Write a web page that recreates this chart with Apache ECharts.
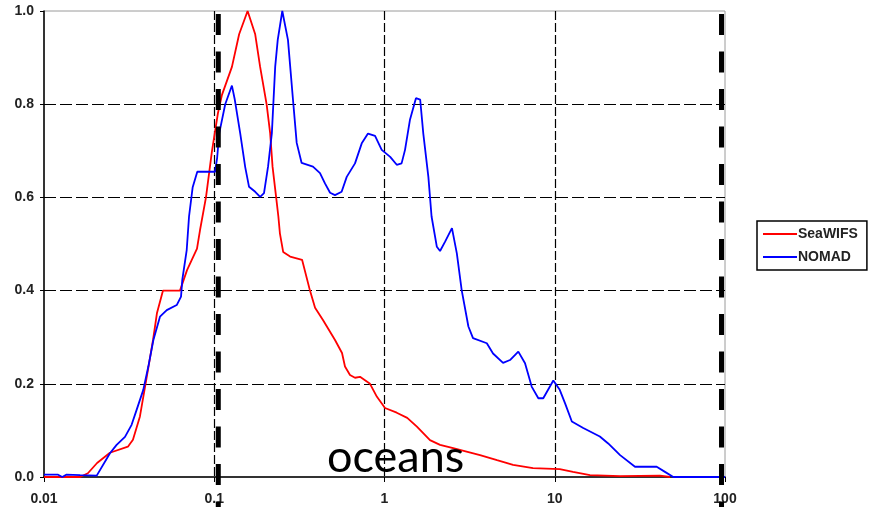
<!DOCTYPE html>
<html>
<head>
<meta charset="utf-8">
<script src="https://cdn.jsdelivr.net/npm/echarts@6/dist/echarts.min.js"></script>
<style>
  html, body { margin: 0; padding: 0; background: #fff; }
  #chart { width: 870px; height: 507px; }
</style>
</head>
<body>
<div id="chart"></div>
<script>
// Normalised frequency distributions of chlorophyll concentration (log x axis)
const xTickLabels = ['0.01', '0.1', '1', '10', '100'];
const yTicks = [0, 0.2, 0.4, 0.6, 0.8, 1.0];

// SeaWIFS: concentration / normalised frequency
const seawifsX = [0.0100, 0.0163, 0.0181, 0.0205, 0.0244, 0.0311, 0.0333, 0.0366, 0.0408, 0.0437,
  0.0461, 0.0500, 0.0629, 0.0692, 0.0792, 0.0825, 0.0894, 0.0970, 0.105, 0.111,
  0.127, 0.140, 0.157, 0.174, 0.186, 0.203, 0.213, 0.220, 0.231, 0.238,
  0.243, 0.254, 0.279, 0.328, 0.365, 0.391, 0.435, 0.512, 0.563, 0.586,
  0.627, 0.671, 0.718, 0.822, 0.903, 1.007, 1.18, 1.36, 1.55, 1.85,
  2.12, 2.53, 3.64, 4.58, 5.69, 7.45, 10.7, 12.8, 16.1, 24.2,
  41.5, 47.5];
const seawifsY = [0.000, 0.000, 0.008, 0.030, 0.052, 0.065, 0.080, 0.130, 0.230, 0.294,
  0.352, 0.400, 0.400, 0.444, 0.490, 0.530, 0.600, 0.700, 0.780, 0.820,
  0.880, 0.950, 1.000, 0.950, 0.880, 0.800, 0.738, 0.666, 0.600, 0.559,
  0.523, 0.483, 0.473, 0.466, 0.400, 0.363, 0.337, 0.294, 0.266, 0.237,
  0.219, 0.213, 0.215, 0.200, 0.172, 0.148, 0.138, 0.127, 0.108, 0.079,
  0.069, 0.062, 0.047, 0.036, 0.026, 0.019, 0.017, 0.011, 0.004, 0.002,
  0.003, 0.000];

// NOMAD: concentration / normalised frequency
const nomadX = [0.0100, 0.0121, 0.0128, 0.0135, 0.0163, 0.0204, 0.0244, 0.0267, 0.0299, 0.0327,
  0.0350, 0.0383, 0.0410, 0.0439, 0.0480, 0.0526, 0.0602, 0.0638, 0.0649, 0.0689,
  0.0711, 0.0747, 0.0795, 0.101, 0.104, 0.107, 0.116, 0.127, 0.132, 0.142,
  0.152, 0.160, 0.174, 0.186, 0.196, 0.207, 0.218, 0.228, 0.236, 0.251,
  0.271, 0.290, 0.305, 0.326, 0.380, 0.418, 0.447, 0.479, 0.512, 0.560,
  0.600, 0.671, 0.735, 0.800, 0.880, 0.963, 1.08, 1.18, 1.26, 1.32,
  1.41, 1.53, 1.62, 1.69, 1.81, 1.89, 2.03, 2.12, 2.27, 2.49,
  2.66, 2.84, 3.11, 3.31, 3.99, 4.34, 4.97, 5.46, 6.11, 6.69,
  7.32, 8.01, 8.56, 9.81, 10.7, 11.5, 12.6, 14.7, 18.4, 20.6,
  24.2, 29.6, 39.7, 44.4, 49.7, 100];
const nomadY = [0.005, 0.005, 0.000, 0.005, 0.004, 0.003, 0.051, 0.069, 0.086, 0.112,
  0.144, 0.187, 0.237, 0.294, 0.344, 0.358, 0.369, 0.387, 0.423, 0.487,
  0.559, 0.622, 0.655, 0.655, 0.685, 0.738, 0.800, 0.840, 0.810, 0.738,
  0.665, 0.623, 0.612, 0.601, 0.609, 0.666, 0.738, 0.880, 0.938, 1.000,
  0.938, 0.810, 0.717, 0.674, 0.666, 0.652, 0.630, 0.610, 0.605, 0.612,
  0.644, 0.673, 0.716, 0.737, 0.732, 0.702, 0.687, 0.670, 0.673, 0.702,
  0.766, 0.813, 0.810, 0.737, 0.644, 0.559, 0.494, 0.485, 0.505, 0.534,
  0.480, 0.401, 0.323, 0.298, 0.287, 0.265, 0.245, 0.251, 0.269, 0.244,
  0.194, 0.169, 0.169, 0.207, 0.187, 0.158, 0.119, 0.105, 0.087, 0.072,
  0.047, 0.022, 0.022, 0.011, 0.000, 0.000];

// Range limits shown as heavy dashed verticals
const rangeLimits = [0.1056, 95.4];

const zip = (xs, ys) => xs.map((x, i) => [x, ys[i]]);

const chart = echarts.init(document.getElementById('chart'), null, { renderer: 'canvas' });

const labelFont = { color: '#222', fontFamily: 'Liberation Sans, Arial, sans-serif', fontSize: 14, fontWeight: 'bold' };

chart.setOption({
  animation: false,
  backgroundColor: '#fff',
  grid: {
    left: 44, right: 145, top: 11, bottom: 30,
    show: true, borderColor: '#9a9a9a', borderWidth: 1, backgroundColor: 'transparent'
  },
  legend: {
    data: ['SeaWIFS', 'NOMAD'],
    orient: 'vertical',
    left: 757, top: 221,
    padding: [6, 9, 6, 6],
    itemGap: 9,
    itemWidth: 34,
    itemHeight: 2,
    icon: 'rect',
    borderColor: '#000',
    borderWidth: 1.5,
    textStyle: { color: '#222', fontFamily: 'Liberation Sans, Arial, sans-serif', fontSize: 14, fontWeight: 'bold', padding: [0, 0, 0, -4] }
  },
  xAxis: {
    type: 'log',
    logBase: 10,
    min: 0.01,
    max: 100,
    axisLine: { show: true, onZero: false, lineStyle: { color: '#000', width: 1.5 } },
    axisTick: { show: true, length: 5, lineStyle: { color: '#000' } },
    axisLabel: Object.assign({ margin: 15, formatter: (v, i) => xTickLabels[i] }, labelFont),
    splitLine: { show: true, showMinLine: false, showMaxLine: false, lineStyle: { color: '#000', width: 1.2, type: [9, 3] } },
    minorTick: { show: false }
  },
  yAxis: {
    type: 'value',
    min: yTicks[0],
    max: yTicks[yTicks.length - 1],
    interval: 0.2,
    axisLine: { show: true, lineStyle: { color: '#000', width: 1.5 } },
    axisTick: { show: true, length: 4, lineStyle: { color: '#000' } },
    axisLabel: Object.assign({ margin: 10, formatter: v => v.toFixed(1) }, labelFont),
    splitLine: { show: true, showMinLine: false, showMaxLine: false, lineStyle: { color: '#000', width: 1.2, type: [12, 4] } }
  },
  graphic: [{
    type: 'text',
    left: 327,
    top: 435,
    z: 100,
    style: { text: 'oceans', fill: '#000', font: '45px Lato, "Liberation Sans", sans-serif' }
  }],
  series: [
    {
      name: 'SeaWIFS',
      type: 'line',
      data: zip(seawifsX, seawifsY),
      symbol: 'none',
      smooth: false,
      color: '#ff0000',
      lineStyle: { color: '#ff0000', width: 1.8 },
      z: 3
    },
    {
      name: 'NOMAD',
      type: 'line',
      data: zip(nomadX, nomadY),
      symbol: 'none',
      smooth: false,
      color: '#0000ff',
      lineStyle: { color: '#0000ff', width: 1.8 },
      z: 4
    },
    {
      name: 'limits',
      type: 'custom',
      clip: false,
      z: 10,
      data: rangeLimits.map(v => [v, 1]),
      renderItem: (params, api) => {
        const top = api.coord([api.value(0), 1]);
        const base = api.coord([api.value(0), 0]);
        return {
          type: 'line',
          shape: { x1: top[0], y1: top[1] + 3, x2: top[0], y2: base[1] + 31 },
          style: { stroke: '#000', lineWidth: 5, lineDash: [21, 16.5] }
        };
      }
    }
  ]
});
</script>
</body>
</html>
